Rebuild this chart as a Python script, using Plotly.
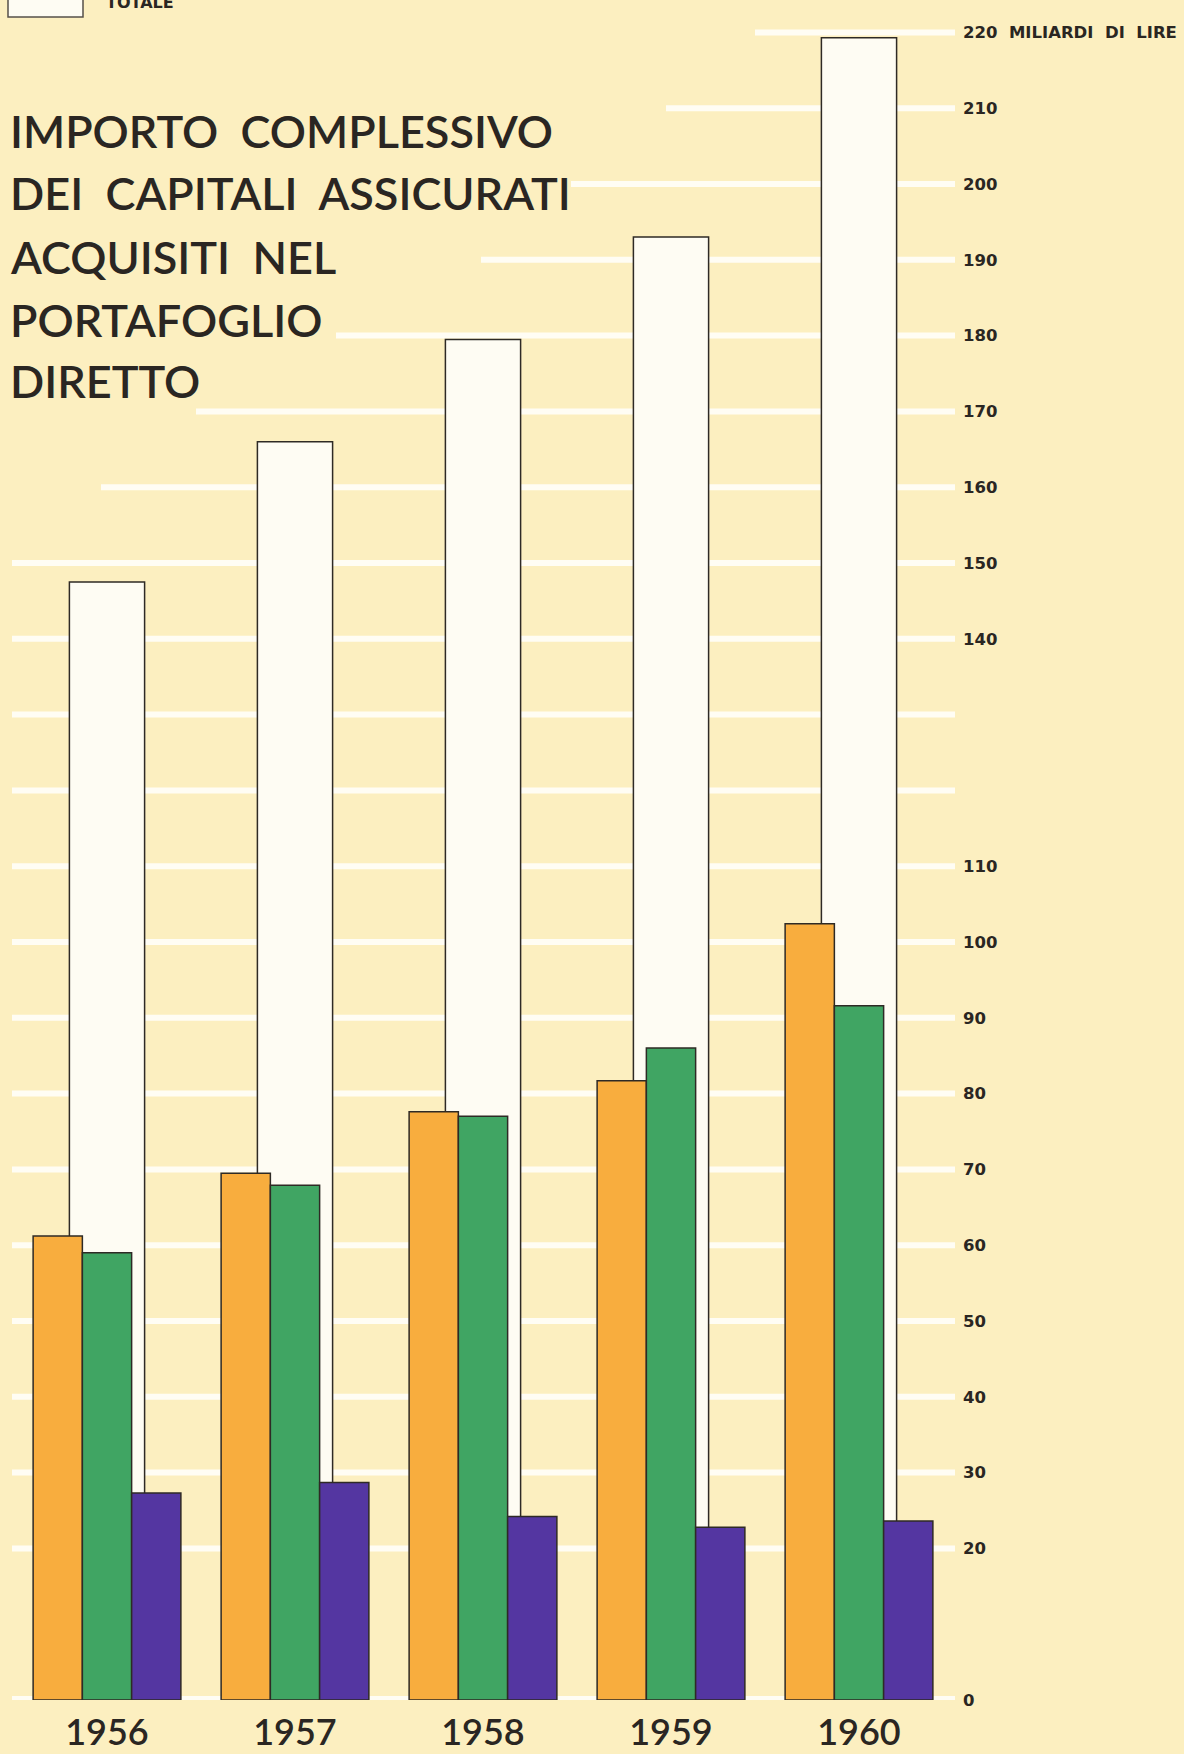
import plotly.graph_objects as go

# ---- data ----
years = ["1956", "1957", "1958", "1959", "1960"]
totale = [147.5, 166.0, 179.5, 193.0, 219.3]
serie_arancio = [61.2, 69.5, 77.6, 81.7, 102.4]
serie_verde = [59.0, 67.9, 77.0, 86.0, 91.6]
serie_viola = [27.3, 28.7, 24.2, 22.8, 23.6]

tick_values = [0, 20, 30, 40, 50, 60, 70, 80, 90, 100, 110,
               140, 150, 160, 170, 180, 190, 200, 210, 220]
tick_labels = ["0", "20", "30", "40", "50", "60", "70", "80", "90", "100", "110",
               "140", "150", "160", "170", "180", "190", "200", "210",
               "220\u00a0\u00a0MILIARDI\u00a0\u00a0DI\u00a0\u00a0LIRE"]
grid_levels = [0, 20, 30, 40, 50, 60, 70, 80, 90, 100, 110, 120, 130,
               140, 150, 160, 170, 180, 190, 200, 210, 220]

title_lines = ["IMPORTO  COMPLESSIVO", "DEI  CAPITALI  ASSICURATI",
               "ACQUISITI  NEL", "PORTAFOGLIO", "DIRETTO"]
legend_label = "TOTALE"

# ---- styling ----
W, H = 1184, 1754
PL, PR, PT, PB = 0, 955, 0, 1700   # plot area in pixels
BG = "#FCEFC0"
WHITE = "#FEFCF3"
ORANGE = "#F8AD3E"
GREEN = "#40A563"
PURPLE = "#5436A1"
EDGE = "#2E2A25"
TXT = "#2A2622"

def px(x):
    return (x - PL) / (PR - PL)

def py(y):
    return (PB - y) / (PB - PT)

xs = list(range(len(years)))
cw = 0.262   # coloured bar width (category units)
ww = 0.40    # white total bar width

fig = go.Figure()
fig.add_bar(x=xs, y=totale, width=ww, offset=-ww / 2, name=legend_label,
            marker=dict(color=WHITE, line=dict(color=EDGE, width=1.5)))
for vals, col, off in [(serie_arancio, ORANGE, -1.5 * cw),
                       (serie_verde, GREEN, -0.5 * cw),
                       (serie_viola, PURPLE, 0.5 * cw)]:
    fig.add_bar(x=xs, y=vals, width=cw, offset=off,
                marker=dict(color=col, line=dict(color=EDGE, width=1.5)))

# white horizontal guide lines (behind the bars), staggered at the top
start_px = {220: 755, 210: 666, 200: 571, 190: 481, 180: 336, 170: 196, 160: 101}
shapes = []
for lv in grid_levels:
    x0 = px(start_px.get(lv, 12))
    shapes.append(dict(type="line", xref="paper", yref="y", layer="below",
                       x0=x0, x1=1.0, y0=lv, y1=lv,
                       line=dict(color="#FFFDF4", width=8 if lv == 0 else 6)))
# legend swatch (partially cut off at the top of the page)
shapes.append(dict(type="rect", xref="paper", yref="paper",
                   x0=px(8), x1=px(83), y0=py(17), y1=py(-20),
                   fillcolor=WHITE, line=dict(color="#555049", width=1.5)))

annotations = [
    dict(xref="paper", yref="paper", x=px(104), y=py(3), xanchor="left",
         yanchor="middle", showarrow=False, text="<b>" + legend_label + "</b>",
         font=dict(family="DejaVu Sans", size=16, color=TXT)),
]
title_y = [131, 193, 257, 320, 381]
for line, ty in zip(title_lines, title_y):
    annotations.append(dict(xref="paper", yref="paper", x=px(8), y=py(ty),
                            xanchor="left", yanchor="middle", showarrow=False,
                            text=line,
                            font=dict(family="Lato", size=45, color=TXT,
                                      weight=600)))

fig.update_layout(
    width=W, height=H,
    margin=dict(l=PL, r=W - PR, t=PT, b=H - PB, pad=0),
    paper_bgcolor=BG, plot_bgcolor="rgba(0,0,0,0)",
    barmode="overlay", showlegend=False,
    shapes=shapes, annotations=annotations,
    xaxis=dict(range=[-107 / 188, (955 - 107) / 188], tickvals=xs, ticktext=years,
               showgrid=False, zeroline=False, showline=False, ticks="",
               tickfont=dict(family="Lato", size=36, color=TXT, weight=600),
               ticklabelstandoff=8),
    yaxis=dict(range=[0, 1700 / 7.58], side="right", tickvals=tick_values,
               ticktext=tick_labels, showgrid=False, zeroline=False,
               showline=False, ticks="",
               tickfont=dict(family="DejaVu Sans", size=16.5, color=TXT, weight="bold"),
               ticklabelstandoff=7),
)

fig.write_html("out.html", config={"displayModeBar": False},
               post_script="document.body.style.margin='0';"
                           "document.body.style.overflow='hidden';")
